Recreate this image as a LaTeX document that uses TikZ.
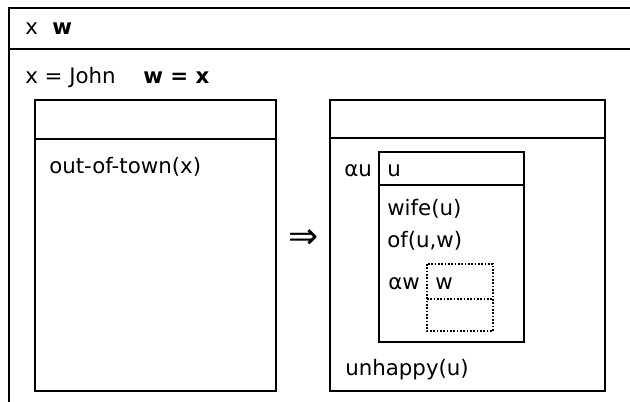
\documentclass[tikz,border=0pt]{standalone}
\usepackage{fontspec}
\setmainfont{DejaVu Sans}
\begin{document}
\begin{tikzpicture}[x=0.75pt,y=-0.75pt,
  drsline/.style={line width=1.5pt},
  drsdot/.style={line width=1.2pt,dash pattern=on 1.2pt off 1.3pt},
  txt/.style={anchor=base west,inner sep=0pt,font=\fontsize{16}{19}\selectfont}]
  \useasboundingbox (0,0) rectangle (630,401);
  \clip (0,0) rectangle (630,401);

  % outer box
  \draw [drsline] (9,420) -- (9,8) -- (650,8);
  \draw [drsline] (9,49) -- (650,49);
  \node [txt] (topx) at (25,34) {x};
  \node [txt] (topw) at (52,34) {\bfseries w};
  \node [txt] (eqjohn) at (25,83) {x = John};
  \node [txt] (eqw) at (143,83) {\bfseries w = x};

  % left box
  \draw [drsline] (35,100) rectangle (276,391);
  \draw [drsline] (35,139) -- (276,139);
  \node [txt] (town) at (49,173) {out-of-town(x)};

  \node [font=\fontsize{27}{30}\selectfont,inner sep=0pt] (imp) at (304,239) {⇒};

  % right box
  \draw [drsline] (330,100) rectangle (605,391);
  \draw [drsline] (330,138) -- (605,138);
  \node [txt] (alphau) at (344,176) {αu};
  \node [txt] (unhappy) at (345,375) {unhappy(u)};

  % u box
  \draw [drsline] (379,152) rectangle (524,342);
  \draw [drsline] (379,185) -- (524,185);
  \node [txt] (refu) at (387,176) {u};
  \node [txt] (wife) at (387,215) {wife(u)};
  \node [txt] (of) at (387,247) {of(u,w)};
  \node [txt] (alphaw) at (388,289) {αw};

  % w box (dotted)
  \draw [drsdot] (427,264) rectangle (493,331);
  \draw [drsdot] (427,299) -- (493,299);
  \node [txt] (refw) at (435,289) {w};
\end{tikzpicture}
\end{document}
